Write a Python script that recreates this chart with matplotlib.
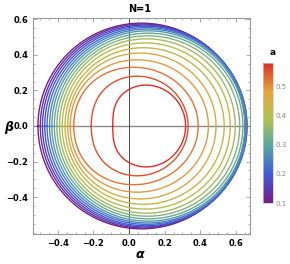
import numpy as np
import matplotlib
matplotlib.use("Agg")
import matplotlib.pyplot as plt
from matplotlib.colors import LinearSegmentedColormap, Normalize
from matplotlib.colorbar import ColorbarBase
from matplotlib.ticker import MultipleLocator

# spin values (colour scale a)
a_vals = [0.10, 0.13, 0.16, 0.19, 0.22, 0.25, 0.28, 0.31, 0.34,
          0.37, 0.40, 0.43, 0.46, 0.49, 0.52, 0.55, 0.58]
# shadow extents: left/right crossing of beta=0, top beta
alpha_left = [-0.512, -0.499, -0.487, -0.474, -0.461, -0.447, -0.434, -0.420, -0.406,
              -0.391, -0.376, -0.360, -0.345, -0.331, -0.311, -0.213, -0.092]
alpha_right = [0.652, 0.656, 0.660, 0.663, 0.663, 0.659, 0.652, 0.640, 0.622,
               0.597, 0.569, 0.535, 0.489, 0.446, 0.389, 0.332, 0.318]
beta_top = [0.578, 0.573, 0.567, 0.561, 0.553, 0.545, 0.535, 0.522, 0.507,
            0.490, 0.467, 0.440, 0.410, 0.372, 0.330, 0.280, 0.230]
a_extremal = 0.585

cmap = LinearSegmentedColormap.from_list("rainbow_m", [
    (0.0, (0.471, 0.110, 0.527)),
    (0.2, (0.255, 0.345, 0.850)),
    (0.4, (0.341, 0.640, 0.650)),
    (0.6, (0.690, 0.760, 0.330)),
    (0.8, (0.900, 0.640, 0.240)),
    (1.0, (0.870, 0.180, 0.160)),
])
norm = Normalize(vmin=0.1, vmax=0.58)


def shadow_shape(chi, n=500):
    rp = 2 * (1 + np.cos(2 / 3 * np.arccos(-chi)))
    rr = 2 * (1 + np.cos(2 / 3 * np.arccos(chi)))
    t = np.linspace(0, np.pi, n)
    r = rp + (rr - rp) * (1 - np.cos(t)) / 2
    xi = (r**2 * (3 - r) - chi**2 * (r + 1)) / (chi * (r - 1))
    eta = r**3 * (4 * chi**2 - r * (r - 3)**2) / (chi**2 * (r - 1)**2)
    eta = np.clip(eta, 0, None)
    al = -xi
    be = np.sqrt(eta)
    u = (al - al.min()) / (al.max() - al.min())
    v = be / be.max()
    uu = np.concatenate([u, u[::-1]])
    vv = np.concatenate([v, -v[::-1]])
    return uu, vv


W, H = 290, 264
fig = plt.figure(figsize=(W / 100, H / 100), dpi=100)
ax = fig.add_axes([33 / W, 1 - 234 / H, 217 / W, 216 / H])

for a, L, R, T in zip(a_vals, alpha_left, alpha_right, beta_top):
    u, v = shadow_shape(min(a / a_extremal, 0.995))
    ax.plot(L + u * (R - L), v * T, color=cmap(norm(a)), lw=1.0, zorder=3)

ax.axhline(0, color="#8a8a8a", lw=1.0, zorder=2)
ax.axvline(0, color="#333333", lw=0.6, zorder=2)

ax.set_xlim(-0.54, 0.68)
ax.set_ylim(-0.607, 0.607)
ax.xaxis.set_minor_locator(MultipleLocator(0.05))
ax.yaxis.set_minor_locator(MultipleLocator(0.05))
ax.tick_params(which="both", direction="in", top=True, right=True,
               color="#999999", labelsize=6)
ax.tick_params(which="major", length=3, width=0.6)
ax.tick_params(which="minor", length=1.5, width=0.5)
ticks = [-0.4, -0.2, 0.0, 0.2, 0.4, 0.6]
tick_labels = ["\u22120.4", "\u22120.2", "0.0", "0.2", "0.4", "0.6"]
ax.set_xticks(ticks)
ax.set_xticklabels(tick_labels, fontweight="bold")
ax.set_yticks(ticks)
ax.set_yticklabels(tick_labels, fontweight="bold")
for s in ax.spines.values():
    s.set_color("#9a9a9a")
    s.set_linewidth(0.8)

fig.text(140 / W, 1 - 9 / H, "N=1", ha="center", va="center",
         fontsize=7, fontweight="bold")
fig.text(140 / W, 1 - 255 / H, r"$\boldsymbol{\alpha}$", ha="center", va="center",
         fontsize=9, fontweight="bold", style="italic")
fig.text(9 / W, 1 - 127 / H, r"$\boldsymbol{\beta}$", ha="center", va="center",
         fontsize=9, fontweight="bold", style="italic")

cax = fig.add_axes([263 / W, 1 - 203 / H, 10 / W, 140 / H])
cb = ColorbarBase(cax, cmap=cmap, norm=norm, orientation="vertical")
cb.set_ticks([0.1, 0.2, 0.3, 0.4, 0.5])
cb.ax.tick_params(labelsize=5, colors="#888888", length=0, pad=2)
cb.outline.set_edgecolor("#cccccc")
cb.outline.set_linewidth(0.5)
fig.text(273 / W, 1 - 53 / H, "a", ha="center", va="center",
         fontsize=6.5, fontweight="bold")

fig.savefig("out.png", dpi=100)
